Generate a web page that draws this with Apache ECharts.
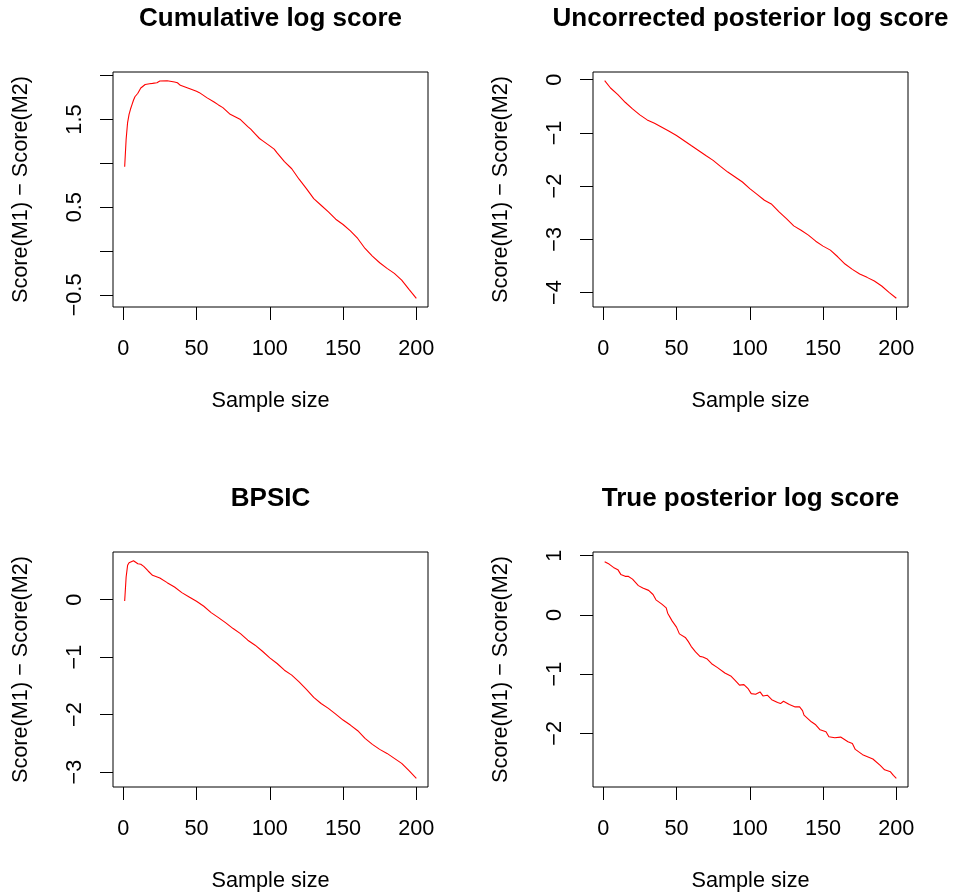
<!DOCTYPE html>
<html>
<head>
<meta charset="utf-8">
<title>Log score comparison</title>
<script src="https://cdn.jsdelivr.net/npm/echarts@6/dist/echarts.min.js"></script>
<style>
  html, body { margin: 0; padding: 0; background: #fff; }
  #main { width: 956px; height: 894px; }
</style>
</head>
<body>
<div id="main"></div>
<script>
// values (sample size, score difference)
var cumX = [1, 2, 3, 4, 5, 6, 7, 8, 10, 12, 15, 18, 20, 23, 25, 30, 35, 37, 39, 40, 45, 50, 52, 57, 62, 65, 68, 73, 80, 85, 87, 90, 93, 95, 100, 103, 105, 110, 115, 120, 125, 130, 135, 140, 145, 150, 155, 160, 165, 170, 175, 180, 185, 190, 195, 200];
var cumY = [0.962, 1.276, 1.466, 1.56, 1.62, 1.67, 1.72, 1.76, 1.8, 1.86, 1.9, 1.909, 1.913, 1.92, 1.94, 1.943, 1.928, 1.92, 1.89, 1.883, 1.855, 1.822, 1.807, 1.75, 1.7, 1.667, 1.636, 1.56, 1.5, 1.42, 1.39, 1.337, 1.284, 1.26, 1.2, 1.163, 1.12, 1.02, 0.939, 0.82, 0.712, 0.598, 0.523, 0.447, 0.364, 0.303, 0.231, 0.144, 0.03, -0.057, -0.133, -0.197, -0.254, -0.33, -0.436, -0.538];

var uncX = [1, 5, 10, 15, 20, 25, 30, 35, 40, 45, 50, 55, 60, 65, 70, 75, 80, 85, 90, 95, 100, 105, 110, 115, 120, 125, 130, 135, 140, 145, 150, 155, 160, 165, 170, 175, 180, 185, 190, 195, 200];
var uncY = [-0.019, -0.156, -0.281, -0.424, -0.549, -0.661, -0.755, -0.817, -0.892, -0.967, -1.048, -1.142, -1.236, -1.329, -1.423, -1.516, -1.629, -1.735, -1.828, -1.922, -2.047, -2.153, -2.265, -2.34, -2.484, -2.608, -2.746, -2.827, -2.92, -3.033, -3.126, -3.201, -3.326, -3.463, -3.563, -3.65, -3.713, -3.782, -3.875, -3.994, -4.106];

var bpsicX = [1, 2, 3, 4, 5, 7, 8, 10, 12, 14, 15, 17, 20, 25, 30, 35, 40, 45, 50, 55, 60, 65, 70, 75, 80, 85, 90, 95, 100, 105, 110, 115, 120, 125, 130, 135, 140, 145, 150, 155, 160, 165, 170, 175, 180, 185, 190, 195, 200];
var bpsicY = [-0.023, 0.394, 0.596, 0.643, 0.654, 0.677, 0.672, 0.625, 0.614, 0.579, 0.556, 0.498, 0.423, 0.376, 0.295, 0.22, 0.122, 0.046, -0.029, -0.116, -0.226, -0.313, -0.405, -0.504, -0.591, -0.706, -0.793, -0.898, -1.013, -1.112, -1.228, -1.314, -1.43, -1.563, -1.702, -1.807, -1.893, -1.992, -2.096, -2.183, -2.281, -2.415, -2.519, -2.606, -2.676, -2.762, -2.849, -2.977, -3.109];

var trueX = [1, 2, 4, 7, 10, 12, 15, 17, 18, 20, 24, 27, 31, 34, 36, 40, 43, 44, 47, 50, 52, 56, 58, 60, 63, 66, 68, 71, 74, 78, 83, 87, 90, 93, 96, 99, 101, 104, 107, 109, 112, 115, 119, 121, 123, 127, 131, 134, 136, 137, 142, 145, 148, 152, 154, 158, 162, 167, 170, 172, 177, 184, 189, 192, 196, 198, 200];
var trueY = [0.899, 0.916, 0.859, 0.803, 0.765, 0.685, 0.652, 0.652, 0.663, 0.605, 0.495, 0.455, 0.415, 0.345, 0.255, 0.183, 0.12, 0.03, -0.1, -0.206, -0.32, -0.38, -0.447, -0.53, -0.625, -0.7, -0.71, -0.745, -0.824, -0.89, -0.981, -1.03, -1.105, -1.185, -1.177, -1.25, -1.329, -1.34, -1.3, -1.368, -1.356, -1.432, -1.48, -1.497, -1.457, -1.512, -1.553, -1.553, -1.615, -1.692, -1.805, -1.855, -1.94, -1.973, -2.057, -2.074, -2.063, -2.141, -2.17, -2.271, -2.36, -2.433, -2.54, -2.615, -2.65, -2.71, -2.759];

var titles = ['Cumulative log score', 'Uncorrected posterior log score', 'BPSIC', 'True posterior log score'];
var xTicks = [0, 50, 100, 150, 200];
var yTicks = [
    [-0.5, 0, 0.5, 1, 1.5, 2],
    [-4, -3, -2, -1, 0],
    [-3, -2, -1, 0],
    [-2, -1, 0, 1]
];
var yLabels = [
    [-0.5, 0.5, 1.5],
    [-4, -3, -2, -1, 0],
    [-3, -2, -1, 0],
    [-2, -1, 0, 1]
];

var FONT = '"Liberation Sans", Arial, Helvetica, sans-serif';
var xs = [cumX, uncX, bpsicX, trueX];
var ys = [cumY, uncY, bpsicY, trueY];

// R 默认坐标范围: 两端各扩 4%
function rRange(arr) {
    var lo = Math.min.apply(null, arr), hi = Math.max.apply(null, arr);
    var d = (hi - lo) * 0.04;
    return [lo - d, hi + d];
}
function minus(v) {
    return String(v).replace('-', '\u2212');
}

var boxes = [
    { left: 113, top: 72 },
    { left: 593, top: 72 },
    { left: 113, top: 552 },
    { left: 593, top: 552 }
];
var BOX_W = 315, BOX_H = 235;

var grid = [], xAxis = [], yAxis = [], series = [], graphic = [];
for (var i = 0; i < 4; i++) {
    grid.push({
        left: boxes[i].left, top: boxes[i].top, width: BOX_W, height: BOX_H,
        show: true, borderColor: '#000', borderWidth: 1,
        containLabel: false, outerBoundsMode: 'none'
    });
    var xr = rRange([1, 200]);
    xAxis.push({
        type: 'value', gridIndex: i, min: xr[0], max: xr[1], position: 'bottom',
        name: 'Sample size', nameLocation: 'middle', nameGap: 83,
        nameTextStyle: { fontFamily: FONT, fontSize: 21.7, color: '#000' },
        axisLine: { show: false, onZero: false },
        splitLine: { show: false },
        axisTick: { show: true, length: 13, customValues: xTicks, lineStyle: { color: '#000', width: 1 } },
        axisLabel: { customValues: xTicks, margin: 31, fontFamily: FONT, fontSize: 21.7, color: '#000' }
    });
    var yr = rRange(ys[i]);
    yAxis.push({
        type: 'value', gridIndex: i, min: yr[0], max: yr[1], position: 'left',
        name: 'Score(M1) \u2212 Score(M2)', nameLocation: 'middle', nameGap: 81, nameRotate: 90,
        nameTextStyle: { fontFamily: FONT, fontSize: 21.7, color: '#000' },
        axisLine: { show: false, onZero: false },
        splitLine: { show: false },
        axisTick: { show: true, length: 13, customValues: yTicks[i], lineStyle: { color: '#000', width: 1 } },
        axisLabel: {
            customValues: yLabels[i], rotate: 90, margin: 27,
            fontFamily: FONT, fontSize: 21.7, color: '#000',
            formatter: minus
        }
    });
    var pts = [];
    for (var k = 0; k < xs[i].length; k++) {
        pts.push([xs[i][k], ys[i][k]]);
    }
    series.push({
        type: 'line', xAxisIndex: i, yAxisIndex: i,
        data: pts, showSymbol: false, symbol: 'none', silent: true,
        lineStyle: { color: '#ff0000', width: 1.1 }
    });
    graphic.push({
        type: 'text',
        x: boxes[i].left + BOX_W / 2,
        y: boxes[i].top - 53.4,
        style: {
            text: titles[i],
            font: 'bold 26px ' + FONT,
            align: 'center', verticalAlign: 'middle',
            textAlign: 'center', textVerticalAlign: 'middle',
            fill: '#000'
        }
    });
}

var myChart = echarts.init(document.getElementById('main'), null, { renderer: 'canvas' });
myChart.setOption({
    backgroundColor: '#fff',
    animation: false,
    grid: grid,
    xAxis: xAxis,
    yAxis: yAxis,
    series: series,
    graphic: graphic
});
</script>
</body>
</html>
